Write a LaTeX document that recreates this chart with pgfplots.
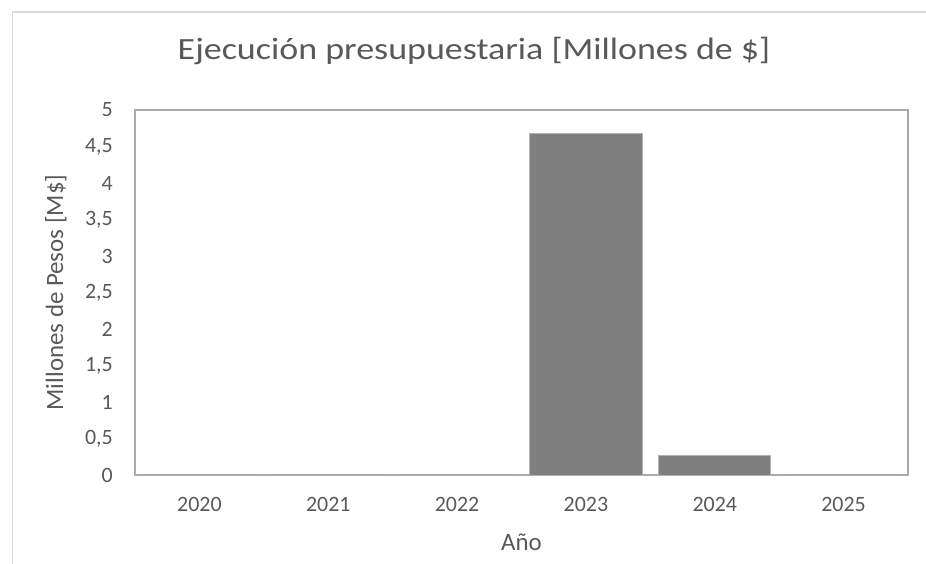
\documentclass[border=0pt]{standalone}
\usepackage{pgfplots}
\pgfplotsset{compat=1.18}
\usepackage{fontspec}
\setmainfont{Carlito}
\definecolor{txt}{HTML}{595959}
\definecolor{barc}{HTML}{7F7F7F}
\definecolor{frame}{HTML}{D9D9D9}
\definecolor{boxc}{HTML}{ABABAB}
\begin{document}
\begin{tikzpicture}[x=1bp,y=1bp]
  \path[use as bounding box] (0,0) rectangle (926,564);
  % marco exterior
  \draw[frame, line width=1.5bp] (12.5,0) -- (12.5,552) -- (926,552);
  \begin{axis}[
      at={(135bp,89bp)}, anchor=south west,
      scale only axis,
      width=773bp, height=365bp,
      xmin=-0.5, xmax=5.5,
      ymin=0, ymax=5,
      xtick={0,1,2,3,4,5},
      xticklabels={2020,2021,2022,2023,2024,2025},
      ytick={0,0.5,...,5},
      major tick length=0pt,
      axis line style={boxc, line width=1.2bp},
      /pgf/number format/.cd, use comma, fixed, precision=1, assume math mode=true,
      /pgfplots/.cd,
      tick label style={font=\fontsize{22}{26}\selectfont, text=txt},
      x tick label style={anchor=base, yshift=-37bp, inner sep=0pt},
      y tick label style={anchor=east, inner sep=0pt, xshift=-22bp},
      title={\scalebox{1.165}[1]{Ejecución presupuestaria [Millones de \$]}},
      title style={font=\fontsize{31}{36}\selectfont, text=txt,
        at={(axis description cs:0.4386,1)}, anchor=base, yshift=45bp},
      xlabel={Año},
      xlabel style={font=\fontsize{25}{30}\selectfont, text=txt,
        at={(axis description cs:0.5,0)}, anchor=base, yshift=-76bp},
      ylabel={Millones de Pesos [M\$]},
      ylabel style={font=\fontsize{25}{30}\selectfont, text=txt,
        at={(axis description cs:-0.0931,0.5)}, anchor=base, rotate=0},
      ybar, bar width=0.87,
      clip=false,
    ]
    \addplot[fill=barc, draw=barc!60!white, line width=0.8bp] coordinates {
      (0,0) (1,0) (2,0) (3,4.68) (4,0.27) (5,0)
    };
  \end{axis}
\end{tikzpicture}
\end{document}
